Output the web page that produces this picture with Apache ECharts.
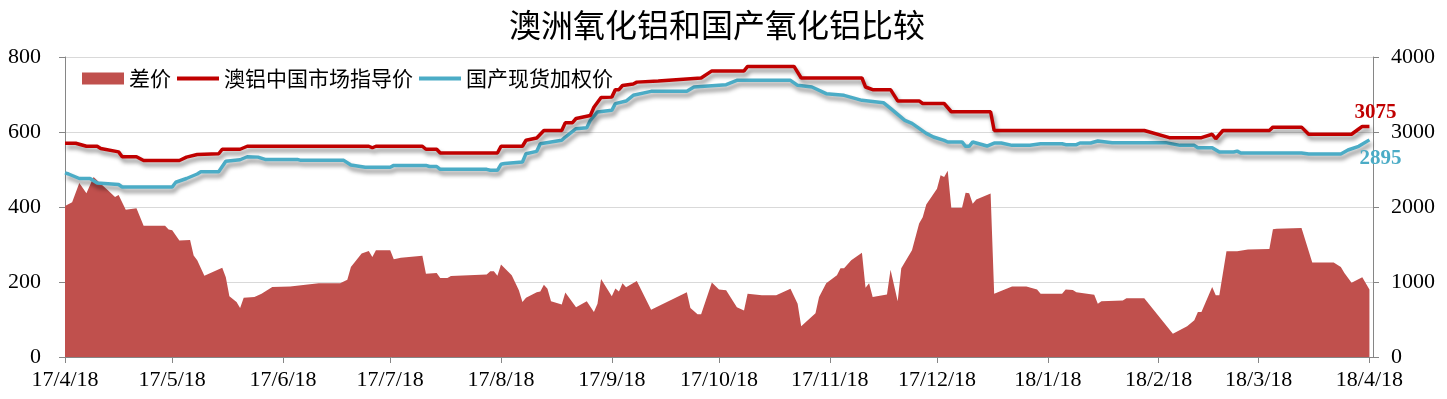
<!DOCTYPE html>
<html>
<head>
<meta charset="utf-8">
<title>澳洲氧化铝和国产氧化铝比较</title>
<script src="https://cdn.jsdelivr.net/npm/echarts@6.0.0/dist/echarts.min.js"></script>
<style>
  html, body { margin: 0; padding: 0; background: #fff; }
  #chart { width: 1447px; height: 399px; }
</style>
</head>
<body>
<div id="chart"></div>
<script>
  // x axis ticks (one per month, on the 18th)
  const tickDates = ['2017-04-18', '2017-05-18', '2017-06-18', '2017-07-18', '2017-08-18', '2017-09-18', '2017-10-18',
    '2017-11-18', '2017-12-18', '2018-01-18', '2018-02-18', '2018-03-18', '2018-04-18'];
  const tickLabels = ['17/4/18', '17/5/18', '17/6/18', '17/7/18', '17/8/18', '17/9/18', '17/10/18',
    '17/11/18', '17/12/18', '18/1/18', '18/2/18', '18/3/18', '18/4/18'];

  // 差价 (left axis)
  const diffDates = ['2017-04-18', '2017-04-20', '2017-04-22', '2017-04-24', '2017-04-26', '2017-04-28', '2017-04-30',
    '2017-05-02', '2017-05-03', '2017-05-05', '2017-05-08', '2017-05-10', '2017-05-16', '2017-05-17', '2017-05-18',
    '2017-05-20', '2017-05-23', '2017-05-24', '2017-05-25', '2017-05-27', '2017-06-01', '2017-06-02', '2017-06-03',
    '2017-06-05', '2017-06-06', '2017-06-07', '2017-06-10', '2017-06-12', '2017-06-15', '2017-06-20', '2017-06-28',
    '2017-07-04', '2017-07-06', '2017-07-07', '2017-07-10', '2017-07-12', '2017-07-13', '2017-07-14', '2017-07-18',
    '2017-07-19', '2017-07-21', '2017-07-27', '2017-07-28', '2017-07-31', '2017-08-01', '2017-08-03', '2017-08-04',
    '2017-08-14', '2017-08-15', '2017-08-16', '2017-08-17', '2017-08-18', '2017-08-21', '2017-08-23', '2017-08-24',
    '2017-08-25', '2017-08-28', '2017-08-29', '2017-08-30', '2017-08-31', '2017-09-01', '2017-09-04', '2017-09-05',
    '2017-09-08', '2017-09-11', '2017-09-13', '2017-09-14', '2017-09-15', '2017-09-18', '2017-09-19', '2017-09-20',
    '2017-09-21', '2017-09-22', '2017-09-25', '2017-09-29', '2017-10-09', '2017-10-10', '2017-10-12', '2017-10-13',
    '2017-10-16', '2017-10-18', '2017-10-20', '2017-10-23', '2017-10-25', '2017-10-26', '2017-10-30', '2017-11-03',
    '2017-11-07', '2017-11-09', '2017-11-10', '2017-11-14', '2017-11-15', '2017-11-17', '2017-11-20', '2017-11-21',
    '2017-11-22', '2017-11-24', '2017-11-27', '2017-11-28', '2017-11-29', '2017-11-30', '2017-12-04', '2017-12-05',
    '2017-12-07', '2017-12-08', '2017-12-11', '2017-12-13', '2017-12-14', '2017-12-15', '2017-12-18', '2017-12-19',
    '2017-12-20', '2017-12-21', '2017-12-22', '2017-12-25', '2017-12-26', '2017-12-27', '2017-12-28', '2017-12-29',
    '2018-01-02', '2018-01-03', '2018-01-08', '2018-01-12', '2018-01-15', '2018-01-16', '2018-01-22', '2018-01-23',
    '2018-01-25', '2018-01-26', '2018-01-31', '2018-02-01', '2018-02-02', '2018-02-08', '2018-02-09', '2018-02-14',
    '2018-02-22', '2018-02-26', '2018-02-28', '2018-03-01', '2018-03-02', '2018-03-05', '2018-03-06', '2018-03-07',
    '2018-03-09', '2018-03-12', '2018-03-15', '2018-03-21', '2018-03-22', '2018-03-23', '2018-03-30', '2018-04-02',
    '2018-04-08', '2018-04-10', '2018-04-11', '2018-04-13', '2018-04-16', '2018-04-18'];
  const diffValues = [403, 413, 464, 437, 480, 462, 445,
    427, 432, 393, 397, 350, 350, 340, 338,
    311, 312, 271, 258, 217, 238, 213, 162,
    147, 131, 158, 160, 169, 187, 188, 197,
    197, 206, 240, 276, 283, 267, 285, 285,
    261, 265, 270, 222, 224, 211, 211, 216,
    220, 229, 229, 217, 247, 218, 178, 147,
    158, 173, 175, 193, 182, 149, 140, 172,
    133, 149, 120, 142, 208, 162, 183, 175,
    197, 186, 203, 126, 173, 131, 114, 114,
    199, 180, 178, 133, 124, 169, 165, 165,
    182, 142, 82, 117, 160, 197, 218, 237,
    237, 258, 278, 185, 197, 160, 167, 233,
    149, 237, 285, 356, 373, 407, 449, 485,
    480, 497, 398, 398, 438, 437, 409, 420,
    436, 169, 188, 188, 180, 169, 169, 180,
    179, 173, 166, 142, 149, 151, 157, 157,
    62, 82, 98, 120, 120, 187, 165, 165,
    282, 282, 287, 288, 341, 342, 344, 252,
    252, 240, 224, 198, 213, 180];

  // 澳铝中国市场指导价 (right axis)
  const guideDates = ['2017-04-18', '2017-04-21', '2017-04-24', '2017-04-27', '2017-04-28', '2017-05-03', '2017-05-04',
    '2017-05-08', '2017-05-10', '2017-05-20', '2017-05-22', '2017-05-25', '2017-05-31', '2017-06-01', '2017-06-06',
    '2017-06-08', '2017-07-12', '2017-07-13', '2017-07-14', '2017-07-27', '2017-07-28', '2017-07-31', '2017-08-01',
    '2017-08-17', '2017-08-18', '2017-08-24', '2017-08-25', '2017-08-28', '2017-08-30', '2017-09-04', '2017-09-05',
    '2017-09-07', '2017-09-08', '2017-09-12', '2017-09-13', '2017-09-15', '2017-09-18', '2017-09-19', '2017-09-20',
    '2017-09-21', '2017-09-24', '2017-09-25', '2017-10-01', '2017-10-13', '2017-10-16', '2017-10-25', '2017-10-26',
    '2017-11-08', '2017-11-10', '2017-11-27', '2017-11-28', '2017-11-30', '2017-12-05', '2017-12-07', '2017-12-13',
    '2017-12-14', '2017-12-20', '2017-12-22', '2018-01-02', '2018-01-03', '2018-02-14', '2018-02-21', '2018-03-02',
    '2018-03-05', '2018-03-06', '2018-03-08', '2018-03-21', '2018-03-22', '2018-03-30', '2018-04-01', '2018-04-13',
    '2018-04-15', '2018-04-16', '2018-04-18'];
  const guideValues = [2850, 2850, 2810, 2810, 2780, 2735, 2670,
    2670, 2620, 2620, 2665, 2700, 2710, 2770, 2770,
    2810, 2810, 2790, 2810, 2810, 2770, 2770, 2720,
    2720, 2810, 2810, 2890, 2920, 3020, 3020, 3125,
    3125, 3180, 3220, 3330, 3460, 3465, 3565, 3565,
    3620, 3640, 3665, 3680, 3720, 3815, 3815, 3875,
    3875, 3720, 3720, 3600, 3565, 3565, 3415, 3415,
    3380, 3380, 3270, 3270, 3020, 3020, 2925, 2925,
    2970, 2910, 3020, 3020, 3065, 3065, 2970, 2970,
    3040, 3075, 3075];

  // 国产现货加权价 (right axis)
  const spotDates = ['2017-04-18', '2017-04-19', '2017-04-22', '2017-04-25', '2017-04-27', '2017-04-30', '2017-05-03',
    '2017-05-04', '2017-05-18', '2017-05-19', '2017-05-22', '2017-05-25', '2017-05-26', '2017-05-31', '2017-06-02',
    '2017-06-06', '2017-06-08', '2017-06-11', '2017-06-13', '2017-06-22', '2017-06-23', '2017-07-05', '2017-07-07',
    '2017-07-11', '2017-07-18', '2017-07-19', '2017-07-28', '2017-07-29', '2017-07-31', '2017-08-01', '2017-08-14',
    '2017-08-15', '2017-08-17', '2017-08-18', '2017-08-19', '2017-08-24', '2017-08-25', '2017-08-28', '2017-08-29',
    '2017-09-04', '2017-09-05', '2017-09-08', '2017-09-11', '2017-09-12', '2017-09-14', '2017-09-18', '2017-09-19',
    '2017-09-22', '2017-09-24', '2017-09-29', '2017-10-09', '2017-10-11', '2017-10-20', '2017-10-23', '2017-11-07',
    '2017-11-09', '2017-11-13', '2017-11-17', '2017-11-22', '2017-11-27', '2017-12-03', '2017-12-05', '2017-12-09',
    '2017-12-11', '2017-12-15', '2017-12-17', '2017-12-20', '2017-12-21', '2017-12-25', '2017-12-26', '2017-12-27',
    '2017-12-28', '2018-01-01', '2018-01-03', '2018-01-05', '2018-01-08', '2018-01-13', '2018-01-16', '2018-01-22',
    '2018-01-23', '2018-01-26', '2018-01-27', '2018-01-30', '2018-02-01', '2018-02-05', '2018-02-20', '2018-02-24',
    '2018-02-28', '2018-03-01', '2018-03-05', '2018-03-07', '2018-03-11', '2018-03-12', '2018-03-13', '2018-03-30',
    '2018-04-01', '2018-04-10', '2018-04-12', '2018-04-15', '2018-04-18'];
  const spotValues = [2455, 2440, 2380, 2380, 2320, 2310, 2300,
    2267, 2267, 2330, 2380, 2440, 2470, 2470, 2610,
    2630, 2670, 2665, 2635, 2635, 2622, 2622, 2560,
    2529, 2529, 2555, 2555, 2540, 2540, 2502, 2502,
    2490, 2489, 2569, 2580, 2600, 2711, 2742, 2844,
    2889, 2933, 3044, 3058, 3156, 3267, 3289, 3378,
    3413, 3489, 3542, 3542, 3600, 3631, 3689, 3689,
    3622, 3600, 3511, 3489, 3422, 3391, 3315, 3156,
    3115, 2982, 2933, 2889, 2867, 2867, 2809, 2809,
    2867, 2813, 2853, 2853, 2822, 2822, 2844, 2844,
    2831, 2831, 2853, 2853, 2880, 2858, 2858, 2822,
    2822, 2791, 2791, 2733, 2733, 2745, 2720, 2720,
    2707, 2707, 2760, 2809, 2895];

  // days since 2017-04-18
  const start = Date.UTC(2017, 3, 18);
  function toDay(s) {
    const p = s.split('-');
    return (Date.UTC(+p[0], +p[1] - 1, +p[2]) - start) / 86400000;
  }
  function pairs(dates, values) {
    return dates.map((d, i) => [toDay(d), values[i]]);
  }
  const tickDays = tickDates.map(toDay);

  const serif = '"Liberation Serif", "Times New Roman", serif';
  const cjk = '"Noto Sans CJK SC", sans-serif';
  const axisGray = '#868686';
  const lineIcon = 'path://M0,0H42V4H0Z';

  const chart = echarts.init(document.getElementById('chart'));
  const option = {
    animation: false,
    backgroundColor: '#fff',
    title: {
      text: '澳洲氧化铝和国产氧化铝比较',
      left: 504,
      top: 4,
      textStyle: {fontFamily: cjk, fontSize: 32, fontWeight: 'normal', color: '#000'}
    },
    legend: {
      left: 77,
      top: 63,
      itemWidth: 42,
      itemHeight: 12,
      itemGap: 6,
      textStyle: {fontFamily: cjk, fontSize: 21, color: '#000'},
      data: [
        {name: '差价', icon: 'rect'},
        {name: '澳铝中国市场指导价', icon: lineIcon},
        {name: '国产现货加权价', icon: lineIcon}
      ]
    },
    grid: {left: 65, right: 74, top: 57, bottom: 42},
    xAxis: {
      type: 'value',
      min: 0,
      max: 366,
      axisLine: {lineStyle: {color: axisGray}},
      axisTick: {show: true, customValues: tickDays, length: 6, lineStyle: {color: axisGray}},
      axisLabel: {
        customValues: tickDays,
        formatter: v => tickLabels[tickDays.indexOf(v)],
        fontFamily: serif, fontSize: 22, color: '#000', margin: 12
      },
      splitLine: {show: false}
    },
    yAxis: [
      {
        type: 'value', min: 0, max: 800, interval: 200, position: 'left',
        axisLine: {show: true, lineStyle: {color: axisGray}},
        axisTick: {show: true, length: 6, lineStyle: {color: axisGray}},
        axisLabel: {fontFamily: serif, fontSize: 22, color: '#000', margin: 24},
        splitLine: {lineStyle: {color: '#d9d9d9'}}
      },
      {
        type: 'value', min: 0, max: 4000, interval: 1000, position: 'right',
        axisLine: {show: true, lineStyle: {color: axisGray}},
        axisTick: {show: true, length: 6, lineStyle: {color: axisGray}},
        axisLabel: {formatter: v => String(v), fontFamily: serif, fontSize: 22, color: '#000', margin: 18},
        splitLine: {show: false}
      }
    ],
    series: [
      {
        name: '差价',
        type: 'line',
        yAxisIndex: 0,
        data: pairs(diffDates, diffValues),
        symbol: 'none',
        color: '#c0504d',
        lineStyle: {width: 0},
        areaStyle: {color: '#c0504d', opacity: 1},
        z: 1
      },
      {
        name: '澳铝中国市场指导价',
        type: 'line',
        yAxisIndex: 1,
        data: pairs(guideDates, guideValues),
        symbol: 'none',
        color: '#c00000',
        lineStyle: {
          width: 3.5, color: '#c00000',
          shadowColor: 'rgba(0,0,0,0.45)', shadowBlur: 4, shadowOffsetX: 2, shadowOffsetY: 4
        },
        endLabel: {
          show: true,
          formatter: p => p.value[1],
          offset: [-23, -14],
          fontFamily: serif, fontWeight: 'bold', fontSize: 21, color: '#c00000'
        },
        z: 3
      },
      {
        name: '国产现货加权价',
        type: 'line',
        yAxisIndex: 1,
        data: pairs(spotDates, spotValues),
        symbol: 'none',
        color: '#4bacc6',
        lineStyle: {
          width: 3.5, color: '#4bacc6',
          shadowColor: 'rgba(0,0,0,0.45)', shadowBlur: 4, shadowOffsetX: 2, shadowOffsetY: 4
        },
        endLabel: {
          show: true,
          formatter: p => p.value[1],
          offset: [-18, 19],
          fontFamily: serif, fontWeight: 'bold', fontSize: 21, color: '#4bacc6'
        },
        z: 2
      }
    ]
  };
  chart.setOption(option);
</script>
</body>
</html>
